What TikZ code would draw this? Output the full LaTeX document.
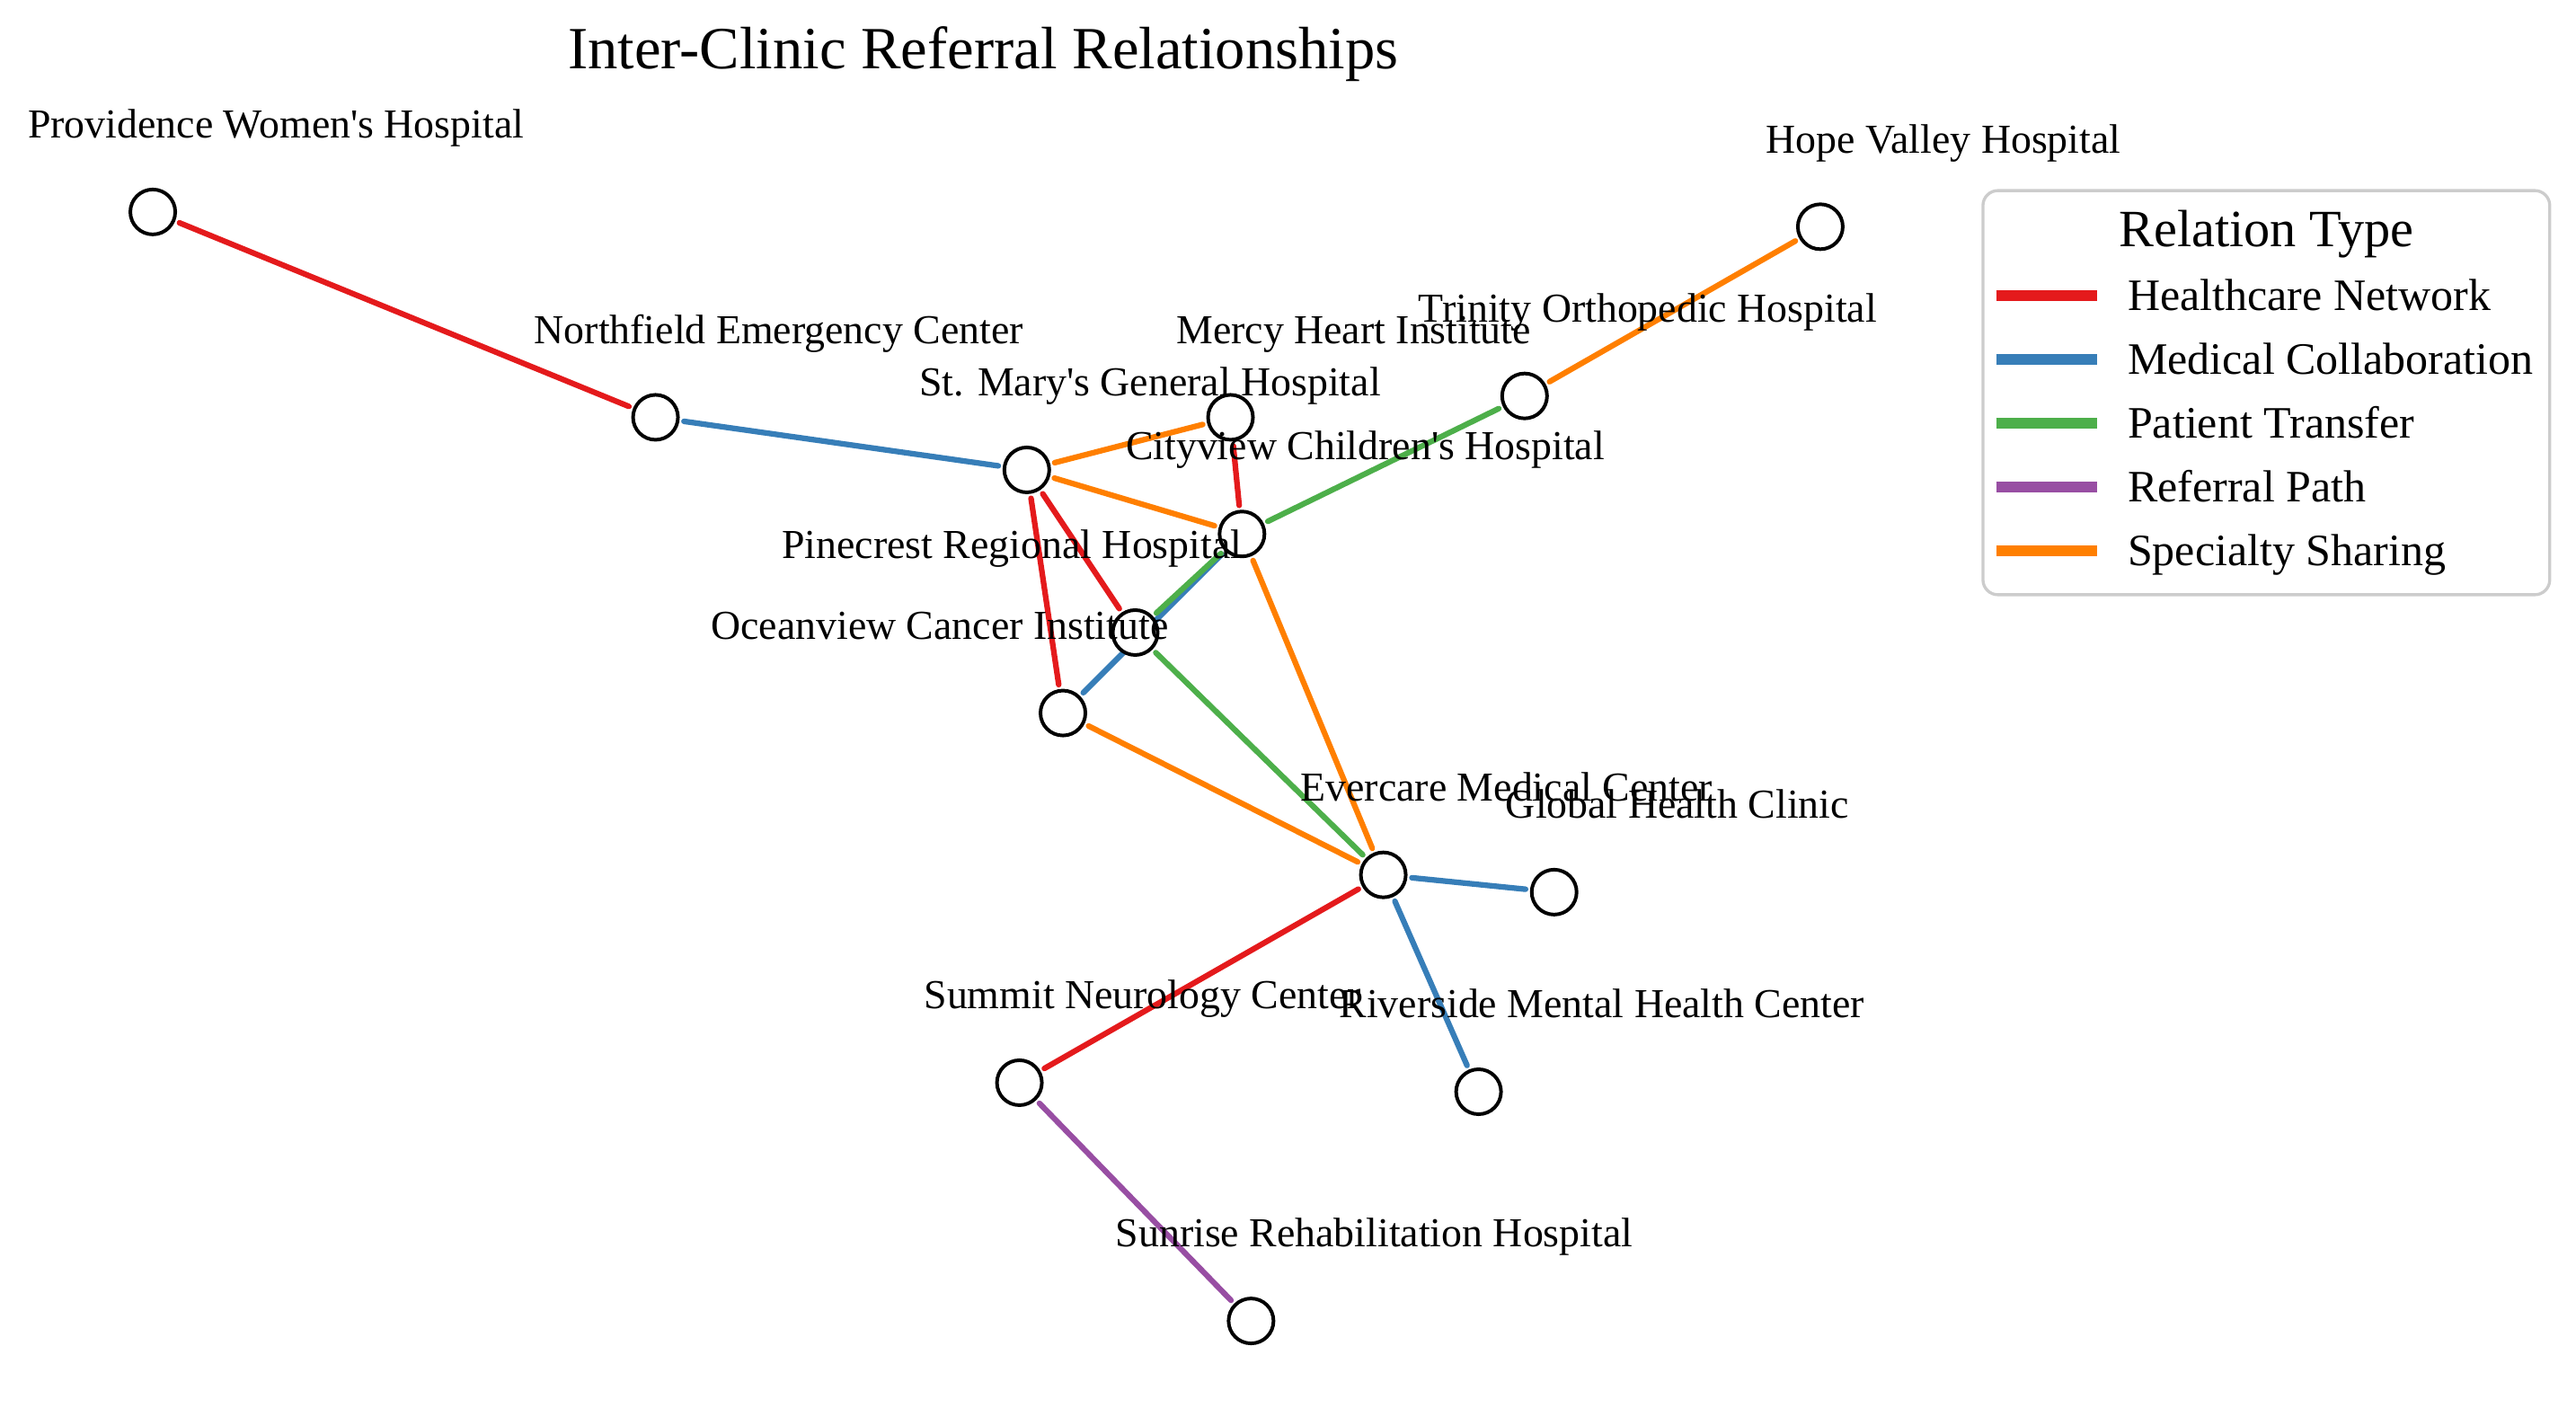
\documentclass[tikz,border=0pt]{standalone}
\usepackage{fontspec}
\setmainfont{Liberation Serif}[Ligatures=TeXOff]
\usetikzlibrary{backgrounds}

\definecolor{hnet}{HTML}{E41A1C}
\definecolor{mcol}{HTML}{377EB8}
\definecolor{ptrans}{HTML}{4DAF4A}
\definecolor{rpath}{HTML}{984EA3}
\definecolor{sshare}{HTML}{FF7F00}

\begin{document}
\begin{tikzpicture}[x=0.4388pt,y=-0.4388pt,
 hosp/.style={circle,draw,fill=white,line width=0.95pt,minimum size=12pt,inner sep=0pt},
 lbl/.style={anchor=base,inner sep=0pt,font=\fontsize{11}{13}\selectfont},
 edge/.style={line width=1.5pt,line cap=round,shorten <=1.2pt,shorten >=1.2pt},
 legtxt/.style={anchor=base west,inner sep=0pt,font=\fontsize{12}{14}\selectfont}]
 \useasboundingbox (0,0) rectangle (1568,862); % 描画範囲

 \node[anchor=base,inner sep=0pt,font=\fontsize{16}{19}\selectfont] (title) at (598.5,42) {Inter-Clinic Referral Relationships}; % タイトル

 \node[hosp] (PW) at (93,129) {}; % 病院
 \node[hosp] (NE) at (399,254) {}; % 病院
 \node[hosp] (SM) at (625,286) {}; % 病院
 \node[hosp] (MH) at (749,254) {}; % 病院
 \node[hosp] (CC) at (756,325) {}; % 病院
 \node[hosp] (PR) at (691,385) {}; % 病院
 \node[hosp] (OC) at (647,434) {}; % 病院
 \node[hosp] (TO) at (928,241) {}; % 病院
 \node[hosp] (HV) at (1108,138) {}; % 病院
 \node[hosp] (EM) at (842,532.5) {}; % 病院
 \node[hosp] (GH) at (946,543) {}; % 病院
 \node[hosp] (RM) at (900,664.5) {}; % 病院
 \node[hosp] (SN) at (620.5,659) {}; % 病院
 \node[hosp] (SR) at (761.5,804) {}; % 病院

 \begin{pgfonlayer}{background}
 \draw[edge,hnet] (PW) -- (NE); % Healthcare Network
 \draw[edge,hnet] (MH) -- (CC); % Healthcare Network
 \draw[edge,hnet] (SM) -- (PR); % Healthcare Network
 \draw[edge,hnet] (SM) -- (OC); % Healthcare Network
 \draw[edge,hnet] (EM) -- (SN); % Healthcare Network

 \draw[edge,mcol] (NE) -- (SM); % Medical Collaboration
 \draw[edge,mcol] (CC) -- (OC); % Medical Collaboration
 \draw[edge,mcol] (EM) -- (GH); % Medical Collaboration
 \draw[edge,mcol] (EM) -- (RM); % Medical Collaboration

 \draw[edge,ptrans] (TO) -- (CC); % Patient Transfer
 \draw[edge,ptrans] (CC) -- (PR); % Patient Transfer
 \draw[edge,ptrans] (PR) -- (EM); % Patient Transfer

 \draw[edge,rpath] (SN) -- (SR); % Referral Path

 \draw[edge,sshare] (SM) -- (MH); % Specialty Sharing
 \draw[edge,sshare] (SM) -- (CC); % Specialty Sharing
 \draw[edge,sshare] (CC) -- (EM); % Specialty Sharing
 \draw[edge,sshare] (OC) -- (EM); % Specialty Sharing
 \draw[edge,sshare] (TO) -- (HV); % Specialty Sharing
 \end{pgfonlayer}

 \node[lbl] (PW-t) at (168,84) {Providence Women's Hospital}; % ラベル
 \node[lbl] (NE-t) at (474,209) {Northfield Emergency Center}; % ラベル
 \node[lbl] (SM-t) at (700,241) {St. Mary's General Hospital}; % ラベル
 \node[lbl] (MH-t) at (824,209) {Mercy Heart Institute}; % ラベル
 \node[lbl] (CC-t) at (831,280) {Cityview Children's Hospital}; % ラベル
 \node[lbl] (PR-t) at (616,340) {Pinecrest Regional Hospital}; % ラベル
 \node[lbl] (OC-t) at (572,389) {Oceanview Cancer Institute}; % ラベル
 \node[lbl] (TO-t) at (1003,196) {Trinity Orthopedic Hospital}; % ラベル
 \node[lbl] (HV-t) at (1183,93) {Hope Valley Hospital}; % ラベル
 \node[lbl] (EM-t) at (917,487.5) {Evercare Medical Center}; % ラベル
 \node[lbl] (GH-t) at (1021,498) {Global Health Clinic}; % ラベル
 \node[lbl] (RM-t) at (975,619.5) {Riverside Mental Health Center}; % ラベル
 \node[lbl] (SN-t) at (695.5,614) {Summit Neurology Center}; % ラベル
 \node[lbl] (SR-t) at (836.5,759) {Sunrise Rehabilitation Hospital}; % ラベル

 \draw[draw=black!20,line width=0.8pt,rounded corners=4pt,fill=white] (1207,116) rectangle (1552,362); % 凡例枠
 \node[anchor=base,inner sep=0pt,font=\fontsize{14}{17}\selectfont] (leg) at (1379.5,150) {Relation Type}; % 凡例タイトル
 \draw[hnet,line width=2.9pt] (1215,180) -- (1276.5,180); % 凡例線
 \draw[mcol,line width=2.9pt] (1215,219) -- (1276.5,219); % 凡例線
 \draw[ptrans,line width=2.9pt] (1215,257.7) -- (1276.5,257.7); % 凡例線
 \draw[rpath,line width=2.9pt] (1215,296.6) -- (1276.5,296.6); % 凡例線
 \draw[sshare,line width=2.9pt] (1215,335.4) -- (1276.5,335.4); % 凡例線
 \node[legtxt] (leg1) at (1294.7,189) {Healthcare Network}; % 凡例
 \node[legtxt] (leg2) at (1294.7,228) {Medical Collaboration}; % 凡例
 \node[legtxt] (leg3) at (1294.7,266.7) {Patient Transfer}; % 凡例
 \node[legtxt] (leg4) at (1294.7,305.6) {Referral Path}; % 凡例
 \node[legtxt] (leg5) at (1294.7,344.4) {Specialty Sharing}; % 凡例
\end{tikzpicture}
\end{document}
